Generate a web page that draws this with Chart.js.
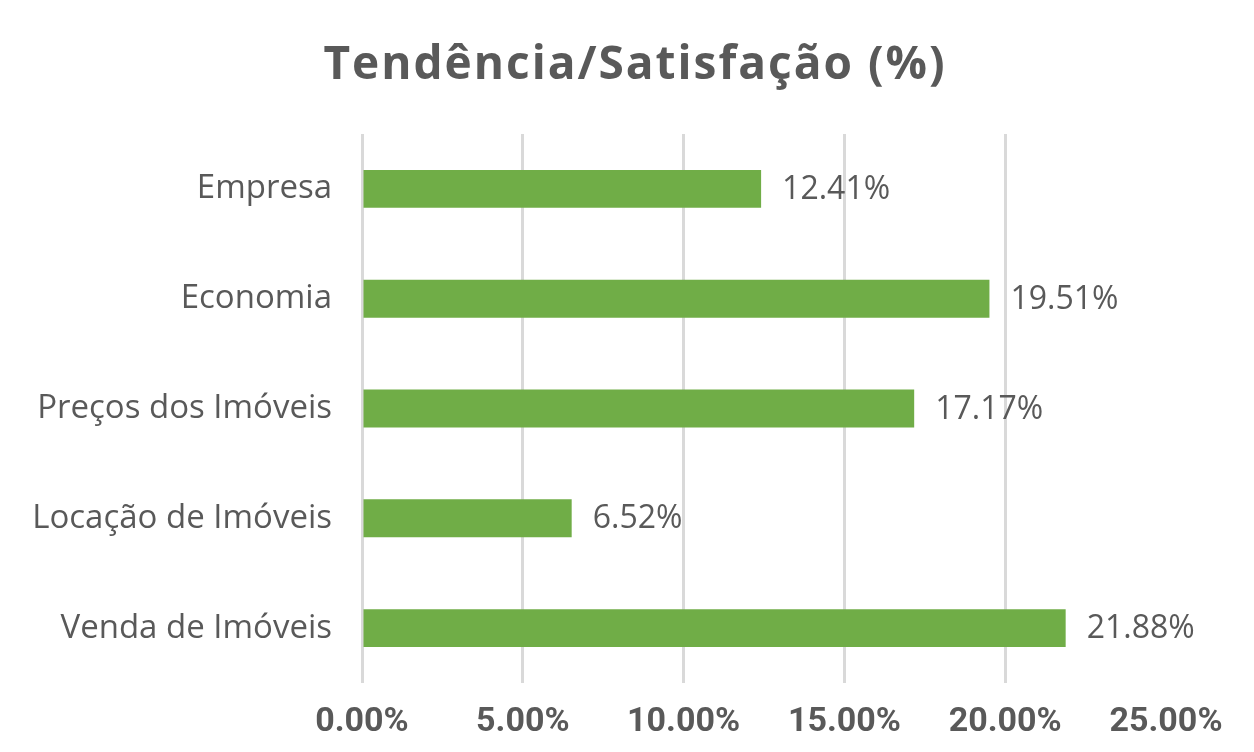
<!DOCTYPE html>
<html>
<head>
<meta charset="utf-8">
<script src="https://cdn.jsdelivr.net/npm/chart.js@4"></script>
<style>
  html, body { margin: 0; padding: 0; background: #ffffff; }
  #wrap { width: 1254px; height: 752px; position: relative; }
</style>
</head>
<body>
<div id="wrap"><canvas id="grafico"></canvas></div>
<script>
// dados do gráfico
var titulo = 'Tendência/Satisfação (%)';
var categorias = ['Empresa', 'Economia', 'Preços dos Imóveis', 'Locação de Imóveis', 'Venda de Imóveis'];
var valores = [12.41, 19.51, 17.17, 6.52, 21.88];
var ticksX = [0, 5, 10, 15, 20, 25];

var corTexto = '#595959';

// rótulos de valor ao lado das barras + título centrado na figura
var rotulosPlugin = {
    id: 'rotulos',
    afterDatasetsDraw: function (chart) {
        var ctx = chart.ctx;
        var meta = chart.getDatasetMeta(0);
        ctx.save();
        ctx.font = '32px "Open Sans"';
        ctx.fillStyle = corTexto;
        ctx.textAlign = 'left';
        ctx.textBaseline = 'middle';
        meta.data.forEach(function (bar, i) {
            ctx.fillText(valores[i].toFixed(2) + '%', bar.x + 21, bar.y + 1);
        });
        ctx.restore();
    },
    afterDraw: function (chart) {
        var ctx = chart.ctx;
        ctx.save();
        ctx.font = 'bold 46px "Open Sans"';
        ctx.letterSpacing = '2px';
        ctx.fillStyle = corTexto;
        ctx.textAlign = 'center';
        ctx.textBaseline = 'alphabetic';
        ctx.fillText(titulo, chart.width / 2 + 8, 79);
        ctx.restore();
    }
};

var ctx = document.getElementById('grafico').getContext('2d');
var grafico = new Chart(ctx, {
    type: 'bar',
    data: {
        labels: categorias,
        datasets: [{
            label: titulo,
            data: valores,
            backgroundColor: '#70AD47',
            borderWidth: 0,
            categoryPercentage: 1,
            barPercentage: 0.345
        }]
    },
    options: {
        indexAxis: 'y',
        responsive: true,
        maintainAspectRatio: false,
        animation: false,
        layout: {
            padding: { left: 20, right: 88, top: 134, bottom: 15 }
        },
        plugins: {
            legend: { display: false },
            tooltip: { enabled: false },
            title: { display: false }
        },
        scales: {
            x: {
                min: 0,
                max: 25,
                afterBuildTicks: function (scale) {
                    scale.ticks = ticksX.map(function (v) { return { value: v }; });
                },
                afterFit: function (scale) { scale.height = 54; },
                grid: {
                    color: function (c) { return c.tick && c.tick.value === 25 ? 'rgba(0,0,0,0)' : '#d9d9d9'; },
                    lineWidth: 3,
                    drawTicks: false
                },
                border: { display: false },
                ticks: {
                    color: corTexto,
                    padding: 19,
                    maxRotation: 0,
                    font: { family: 'Roboto', size: 34, weight: 'bold' },
                    callback: function (v) { return Number(v).toFixed(2) + '%'; }
                }
            },
            y: {
                grid: { display: false, drawTicks: false },
                border: { display: false },
                afterFit: function (scale) { scale.width = 342; },
                ticks: {
                    color: corTexto,
                    padding: 30,
                    font: { family: '"Open Sans"', size: 33 }
                }
            }
        }
    },
    plugins: [rotulosPlugin]
});
</script>
</body>
</html>
